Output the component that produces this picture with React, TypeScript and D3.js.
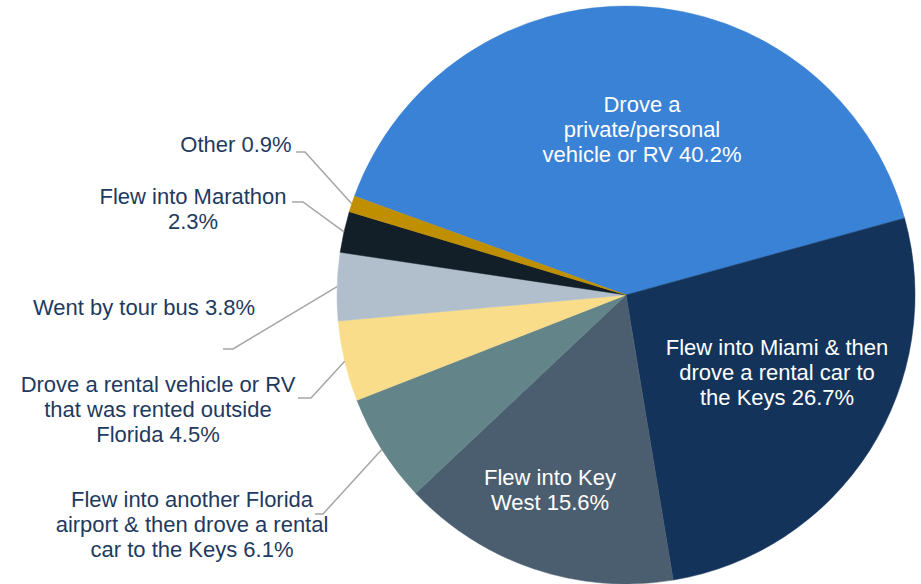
import React from "react";
import * as d3 from "d3";

// ---- data ----
const categories = [
  "Drove a private/personal vehicle or RV",
  "Flew into Miami & then drove a rental car to the Keys",
  "Flew into Key West",
  "Flew into another Florida airport & then drove a rental car to the Keys",
  "Drove a rental vehicle or RV that was rented outside Florida",
  "Went by tour bus",
  "Flew into Marathon",
  "Other",
];
const values = [40.2, 26.7, 15.6, 6.1, 4.5, 3.8, 2.3, 0.9];

// ---- styles / layout ----
const colors = [
  "#3A82D6",
  "#14335A",
  "#4B5E70",
  "#638489",
  "#F9DD8B",
  "#B1BFCD",
  "#121E28",
  "#BF8F00",
];
// words per line for each label
const wrapCounts = [
  [2, 1, 4],
  [5, 5, 3],
  [3, 2],
  [4, 6, 5],
  [6, 4, 2],
  [5],
  [3, 1],
  [2],
];
type Lay = {
  inside: boolean;
  x: number;
  y: number;
  lineStart?: [number, number];
  elbow?: [number, number];
};
const layout: Lay[] = [
  { inside: true, x: 642, y: 112 },
  { inside: true, x: 777, y: 355 },
  { inside: true, x: 550, y: 485 },
  { inside: false, x: 192, y: 507, lineStart: [315, 514], elbow: [323, 514] },
  { inside: false, x: 158, y: 392, lineStart: [298, 398], elbow: [311, 398] },
  { inside: false, x: 144, y: 315, lineStart: [223, 349], elbow: [233, 349] },
  { inside: false, x: 193, y: 204, lineStart: [292, 202], elbow: [303, 202] },
  { inside: false, x: 236, y: 152, lineStart: [296, 152], elbow: [305, 152] },
];

const W = 921;
const H = 584;
const CX = 626;
const CY = 295;
const R = 289;
const START = (-70 * Math.PI) / 180;
const LINE_H = 25;
const FONT = "'Liberation Sans', Arial, sans-serif";

function wrap(text: string, counts: number[]): string[] {
  const words = text.split(" ");
  const out: string[] = [];
  let i = 0;
  counts.forEach((c) => {
    out.push(words.slice(i, i + c).join(" "));
    i += c;
  });
  if (i < words.length) out[out.length - 1] += " " + words.slice(i).join(" ");
  return out;
}

export default function App() {
  const pie = d3
    .pie<number>()
    .sort(null)
    .value((d) => d)
    .startAngle(START)
    .endAngle(START + 2 * Math.PI);
  const arcs = pie(values);
  const arc = d3.arc<d3.PieArcDatum<number>>().innerRadius(0).outerRadius(R);
  const edge = d3.arc<d3.PieArcDatum<number>>().innerRadius(R).outerRadius(R);

  return (
    <div style={{ position: "absolute", left: 0, top: 0 }}>
      <svg width={W} height={H} style={{ display: "block", background: "#fff" }}>
        <g transform={`translate(${CX},${CY})`}>
          {arcs.map((a, i) => (
            <path
              key={i}
              d={arc(a) || ""}
              fill={colors[i]}
              stroke={colors[i]}
              strokeWidth={0.5}
            />
          ))}
        </g>
        {arcs.map((a, i) => {
          const L = layout[i];
          if (L.inside || !L.lineStart || !L.elbow) return null;
          const [ex, ey] = edge.centroid(a);
          const pts: [number, number][] = [
            L.lineStart,
            L.elbow,
            [CX + ex, CY + ey],
          ];
          return (
            <path
              key={"l" + i}
              d={d3.line()(pts) || ""}
              fill="none"
              stroke="#A6A6A6"
              strokeWidth={1.5}
            />
          );
        })}
        {arcs.map((a, i) => {
          const L = layout[i];
          const lines = wrap(`${categories[i]} ${values[i].toFixed(1)}%`, wrapCounts[i]);
          return (
            <text
              key={"t" + i}
              x={L.x}
              y={L.y}
              textAnchor="middle"
              fontFamily={FONT}
              fontSize={22}
              fill={L.inside ? "#FFFFFF" : "#1E3A5F"}
            >
              {lines.map((ln, j) => (
                <tspan key={j} x={L.x} y={L.y + j * LINE_H}>
                  {ln}
                </tspan>
              ))}
            </text>
          );
        })}
      </svg>
    </div>
  );
}
